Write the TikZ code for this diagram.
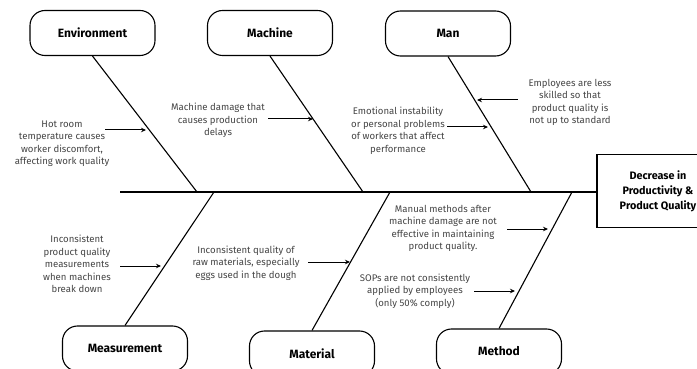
\documentclass[tikz,border=0pt]{standalone}
\usepackage{fontspec}
\setmainfont{Fira Sans}
\usetikzlibrary{arrows.meta}
\definecolor{txtgray}{HTML}{444444}
\tikzset{
  catbox/.style={draw=black, line width=1.1pt, rounded corners=15pt, minimum width=125pt, minimum height=45pt, font=\bfseries\fontsize{12}{14}\selectfont, inner sep=0pt},
  effbox/.style={draw=black, line width=1.1pt, minimum width=122pt, minimum height=73pt, align=center, font=\bfseries\fontsize{10.8}{15}\selectfont, inner sep=0pt},
  bone/.style={line width=1.1pt, draw=black},
  cause/.style={align=center, text=txtgray, font=\fontsize{9.6}{12.5}\selectfont, inner sep=0pt},
  carrow/.style={line width=1pt, -{Stealth[length=5pt,width=4.5pt]}}
}
\begin{document}
\begin{tikzpicture}[x=1pt,y=-1pt]
\useasboundingbox (0,0) rectangle (697,369);
% effect box
\node[effbox] (eff) at (658,191) {Decrease in\\Productivity \&\\Product Quality};
% category boxes
\node[catbox] (env) at (92.5,33) {Environment};
\node[catbox] (mac) at (270,33) {Machine};
\node[catbox] (man) at (448,33.5) {Man};
\node[catbox] (mea) at (125,348.5) {Measurement};
\node[catbox] (mat) at (312,353.5) {Material};
\node[catbox] (met) at (499,351.5) {Method};
% spine
\coordinate (tail) at (120,192);
\draw[bone] (tail) -- (eff.west |- tail);
% bone ends on spine
\coordinate (envE) at (197,192);
\coordinate (macE) at (363,192);
\coordinate (manE) at (531,192);
\coordinate (meaE) at (214,192);
\coordinate (matE) at (390,192);
\coordinate (metE) at (572,192);
\draw[bone] (env.south) -- (envE);
\draw[bone] (mac.south) -- (macE);
\draw[bone] (man.south) -- (manE);
\draw[bone] (mea.north) -- (meaE);
\draw[bone] (mat.north) -- (matE);
\draw[bone] (met.north) -- (metE);
% causes
\node[cause] (c1) at (62,143.5) {Hot room\\temperature causes\\worker discomfort,\\affecting work quality};
\node[cause] (c2) at (218,120.5) {Machine damage that\\causes production\\delays};
\node[cause] (c3) at (398,131) {Emotional instability\\or personal problems\\of workers that affect\\performance};
\node[cause] (c4) at (570,102.5) {Employees are less\\skilled so that\\product quality is\\not up to standard};
\node[cause] (c5) at (77,264) {Inconsistent\\product quality\\measurements\\when machines\\break down};
\node[cause] (c6) at (246,263) {Inconsistent quality of\\raw materials, especially\\eggs used in the dough};
\node[cause] (c7) at (443,228.5) {Manual methods after\\machine damage are not\\effective in maintaining\\product quality.};
\node[cause] (c8) at (415,291) {SOPs are not consistently\\applied by employees\\(only 50\% comply)};
% arrow coordinates
\coordinate (a1s) at (105,130); \coordinate (a1e) at (146,130);
\coordinate (a2s) at (268,119); \coordinate (a2e) at (313,119);
\coordinate (a3s) at (447,127); \coordinate (a3e) at (488,127);
\coordinate (a4s) at (518,100); \coordinate (a4e) at (477,100);
\coordinate (a5s) at (120,266); \coordinate (a5e) at (161,266);
\coordinate (a6s) at (308,262); \coordinate (a6e) at (350,262);
\coordinate (a7s) at (507,229); \coordinate (a7e) at (548,229);
\coordinate (a8s) at (474,291); \coordinate (a8e) at (515,291);
\draw[carrow] (a1s) -- (a1e);
\draw[carrow] (a2s) -- (a2e);
\draw[carrow] (a3s) -- (a3e);
\draw[carrow] (a4s) -- (a4e);
\draw[carrow] (a5s) -- (a5e);
\draw[carrow] (a6s) -- (a6e);
\draw[carrow] (a7s) -- (a7e);
\draw[carrow] (a8s) -- (a8e);
\end{tikzpicture}
\end{document}
